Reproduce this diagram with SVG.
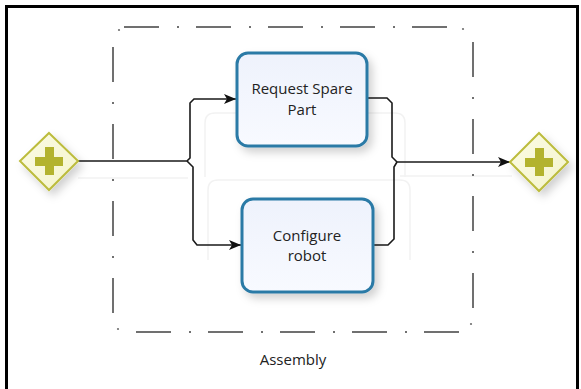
<svg xmlns="http://www.w3.org/2000/svg" width="581" height="389" viewBox="0 0 581 389">
  <style>
    .frame { fill: none; stroke: #000; stroke-width: 3; }
    .edge-h { fill: none; stroke: #707070; stroke-width: 2; stroke-dasharray: 35 18 2 17; }
    .edge-v { fill: none; stroke: #707070; stroke-width: 2; stroke-dasharray: 35 20 2 20; }
    .corner { fill: #707070; }
    .ghost { fill: none; stroke: #f2f2f2; stroke-width: 1.5; }
    .task { fill: url(#taskFill); stroke: #2b7aa6; stroke-width: 3; filter: url(#shadow); }
    .gw { fill: url(#gwFill); stroke: #bcbc3c; stroke-width: 2; filter: url(#shadow); }
    .plus { fill: #b3b32e; }
    .flow { fill: none; stroke: #1a1a1a; stroke-width: 1.6; }
    .label { font-family: "Open Sans", "DejaVu Sans", sans-serif; font-size: 15px; fill: #222; text-anchor: middle; }
  </style>
  <defs>
    <linearGradient id="taskFill" x1="0" y1="0" x2="0" y2="1">
      <stop offset="0" stop-color="#eef2fc"/>
      <stop offset="1" stop-color="#f8faff"/>
    </linearGradient>
    <linearGradient id="gwFill" x1="0" y1="0" x2="1" y2="1">
      <stop offset="0" stop-color="#fbfbe4"/>
      <stop offset="1" stop-color="#f4f4cc"/>
    </linearGradient>
    <filter id="shadow" x="-30%" y="-30%" width="170%" height="170%">
      <feDropShadow dx="4" dy="5" stdDeviation="4" flood-color="#000" flood-opacity="0.18"/>
    </filter>
    <marker id="arrow" viewBox="0 0 12 10" refX="12" refY="5" markerWidth="12" markerHeight="10" markerUnits="userSpaceOnUse" orient="auto">
      <path d="M0,0 L12,5 L0,10 L3,5 Z" fill="#111"/>
    </marker>
  </defs>

  <!-- outer frame -->
  <path class="frame" d="M6.5,389 V6.5 H577.5 V389"/>

  <!-- faint drag outlines -->
  <g id="ghosts">
    <path class="ghost" d="M78,178 H188 M400,176 H512"/>
    <path class="ghost" d="M205,177 V123 Q205,113 215,113 H395 Q405,113 405,123 V177"/>
    <path class="ghost" d="M208,260 V190 Q208,180 218,180 H400 Q410,180 410,190 V260"/>
  </g>

  <!-- sub-process group: dash-dot border drawn side by side -->
  <g id="assembly">
    <line class="edge-h" x1="124" y1="27" x2="460" y2="27"/>
    <line class="edge-h" x1="136" y1="332" x2="462" y2="332"/>
    <line class="edge-v" x1="113" y1="47" x2="113" y2="313"/>
    <line class="edge-v" x1="473" y1="42" x2="473" y2="308"/>
    <circle class="corner" cx="119" cy="30" r="1.1"/>
    <circle class="corner" cx="463" cy="29" r="1.1"/>
    <circle class="corner" cx="118" cy="329" r="1.1"/>
    <circle class="corner" cx="471" cy="324" r="1.1"/>
    <text class="label" x="293" y="365">Assembly</text>
  </g>

  <!-- sequence flows -->
  <g id="connectors">
    <path class="flow" d="M78,161 H187 L190,158 V103 L194,99 H236" marker-end="url(#arrow)"/>
    <path class="flow" d="M187,161 L193,167 V240 L197,245 H241" marker-end="url(#arrow)"/>
    <path class="flow" d="M368,98 H387 L392,103 V157 L397,162"/>
    <path class="flow" d="M374,245 H388 L394,239 V167 L397,162"/>
    <path class="flow" d="M397,162 H510" marker-end="url(#arrow)"/>
  </g>

  <g id="split">
    <polygon class="gw" points="49,133 78,161 49,190 20,161"/>
    <path class="plus" d="M45,147 H54 V157 H63 V166 H54 V175 H45 V166 H35 V157 H45 Z"/>
  </g>

  <g id="request-spare-part">
    <rect class="task" x="237" y="53" width="130" height="93" rx="11"/>
    <text class="label" x="302" y="94">Request Spare</text>
    <text class="label" x="302" y="115">Part</text>
  </g>

  <g id="configure-robot">
    <rect class="task" x="242" y="199" width="131" height="93" rx="11"/>
    <text class="label" x="307" y="241">Configure</text>
    <text class="label" x="307" y="261">robot</text>
  </g>

  <g id="join">
    <polygon class="gw" points="539,133 568,162 539,191 510,162"/>
    <path class="plus" d="M535,148 H544 V158 H553 V167 H544 V176 H535 V167 H525 V158 H535 Z"/>
  </g>
</svg>
